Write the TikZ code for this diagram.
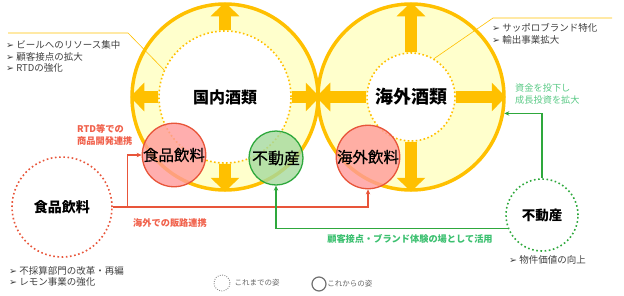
\documentclass[tikz,border=0pt]{standalone}
\usepackage{fontspec}
\setmainfont{Noto Sans CJK JP}
\newfontfamily\dejavu{DejaVu Sans}
\usepackage{tikz}
\usetikzlibrary{positioning, arrows.meta, calc}
\usepackage{xcolor}
\definecolor{sapgold}{HTML}{FFC000}
\definecolor{ringfill}{HTML}{FFFFCC}
\definecolor{redline}{HTML}{E8553A}
\definecolor{redtext}{HTML}{F0604A}
\definecolor{greenline}{HTML}{2EA83C}
\definecolor{greentext}{HTML}{3CC070}
\definecolor{pinkfill}{HTML}{FF9A9A}
\definecolor{mintfill}{HTML}{A6DA9E}
\definecolor{notegray}{HTML}{404040}
\newcommand{\bul}{{\dejavu\char"27A2}\ }
\tikzset{
    ring/.style={
        circle, draw=sapgold, line width=3.5pt,
        fill=ringfill, minimum size=186pt, inner sep=0pt
    },
    core/.style={
        circle, draw=sapgold, line width=1.6pt,
        dash pattern=on 1.6pt off 2.4pt,
        fill=white, inner sep=0pt, font=\bfseries
    },
    grow_arrow/.style={
        draw=sapgold, line width=12.5pt,
        -{Triangle[length=14pt, width=28pt]}
    },
    seg_red/.style={
        circle, draw=redline, line width=1.3pt,
        fill=pinkfill, fill opacity=0.8, text opacity=1,
        inner sep=0pt, font=\fontsize{15.5pt}{16pt}\selectfont\addfontfeature{FakeBold=0.6}
    },
    seg_green/.style={
        circle, draw=greenline, line width=1.3pt,
        fill=mintfill, fill opacity=0.8, text opacity=1,
        inner sep=0pt, font=\fontsize{16pt}{16pt}\selectfont\addfontfeature{FakeBold=0.6}
    },
    seg_old/.style={
        circle, line width=1.6pt, dash pattern=on 1.6pt off 2.6pt,
        fill=white, inner sep=0pt, font=\bfseries\fontsize{14pt}{14pt}\selectfont
    },
    note/.style={
        text=notegray, align=left, inner sep=0pt,
        font=\fontsize{9.5pt}{11.8pt}\selectfont
    },
    callout/.style={draw=sapgold, line width=0.6pt}
}

\begin{document}
\begin{tikzpicture}[
    x=1pt, y=-1pt,
    link_red/.style={draw=redline, line width=1.2pt, -{Stealth[length=5pt, width=4.5pt]}},
    link_green/.style={draw=greenline, line width=1.2pt, -{Stealth[length=5pt, width=4.5pt]}},
    tag/.style={inner sep=0pt, font=\bfseries\fontsize{9.2pt}{12pt}\selectfont},
    legend/.style={text=notegray!80, inner sep=0pt, font=\fontsize{7.5pt}{8pt}\selectfont}
]
\useasboundingbox (0,0) rectangle (624,295);

% two business rings
\node[ring] (dom) at (225,97) {};
\node[ring] (ovs) at (411,97) {};
\node[core, minimum size=132pt, font=\bfseries\fontsize{16pt}{16pt}\selectfont] (dom_core) at (225,97) {国内酒類};
\node[core, minimum size=88pt, font=\bfseries\fontsize{18pt}{18pt}\selectfont] (ovs_core) at (411,97) {海外酒類};

% growth arrows
\foreach \a/\b in {north/north, west/west, east/east, south/south} {
    \draw[grow_arrow] (dom_core.\a) -- (dom.\b);
    \draw[grow_arrow] (ovs_core.\a) -- (ovs.\b);
}

% segments inside the rings
\node[seg_red] (fb_dom) at (174,155) [minimum size=63pt] {食品飲料};
\node[seg_green] (re_dom) at (276,158) [minimum size=54pt] {不動産};
\node[seg_red] (fb_ovs) at (368,157) [minimum size=60pt] {海外飲料};

% segments as they were
\node[seg_old, draw=redline, minimum size=100pt] (fb_old) at (62,207) {食品飲料};
\node[seg_old, draw=greenline, minimum size=72pt, font=\bfseries\fontsize{13.5pt}{14pt}\selectfont] (re_old) at (542,215) {不動産};

% links
\draw[link_red] (fb_old.east) -- ++(15,0) |- (fb_dom.west);
\draw[link_red] (fb_old.east) -| (fb_ovs.south);
\draw[link_green] (re_old.north) |- (ovs.-10);
\draw[link_green] (re_old.201) -| (re_dom.south);

\node[tag, text=redtext, align=left, anchor=west] (tag_rtd) at (77,135) {RTD等での\\商品開発連携};
\node[tag, text=redtext] (tag_sales) at (170,223) {海外での販路連携};
\node[tag, text=greentext] (tag_brand) at (410,239) {顧客接点・ブランド体験の場として活用};
\node[tag, text=greentext!85, align=left, anchor=west, font=\fontsize{9.2pt}{11.5pt}\selectfont] (tag_fund) at (515,94) {資金を投下し\\成長投資を拡大};

% notes
\coordinate (dom_end) at (8,33);
\coordinate (ovs_end) at (612,18);
\draw[callout] (dom_core.156) -- (128,33) -- (dom_end);
\draw[callout] (ovs_core.59) -- (493,18) -- (ovs_end);
\node[note, anchor=west] (note_dom) at (6,56.5) {\bul ビールへのリソース集中\\\bul 顧客接点の拡大\\\bul RTDの強化};
\node[note, anchor=west] (note_ovs) at (492,34) {\bul サッポロブランド特化\\\bul 輸出事業拡大};
\node[note, anchor=west] (note_fb) at (9,276.5) {\bul 不採算部門の改革・再編\\\bul レモン事業の強化};
\node[note, anchor=west] (note_re) at (509,260) {\bul 物件価値の向上};

% legend
\node[circle, draw=notegray!60, line width=0.9pt, dash pattern=on 0.9pt off 1.4pt, minimum size=16pt, inner sep=0pt] (leg_old) at (222,283) {};
\node[legend, anchor=west, right=4pt of leg_old] (leg_old_txt) {これまでの姿};
\node[circle, draw=notegray!75, line width=1.2pt, minimum size=14pt, inner sep=0pt] (leg_new) at (319,284) {};
\node[legend, anchor=west, right=0.5pt of leg_new] (leg_new_txt) {これからの姿};

\end{tikzpicture}
\end{document}
